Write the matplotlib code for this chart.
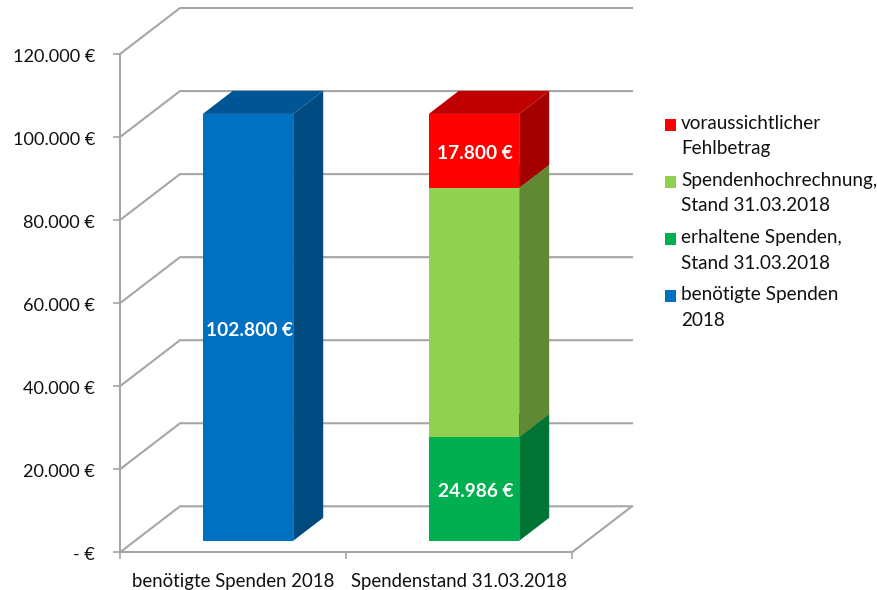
import matplotlib
matplotlib.use('Agg')
import matplotlib.pyplot as plt
from matplotlib.legend_handler import HandlerPatch
from matplotlib.patches import Rectangle
from matplotlib.transforms import ScaledTranslation
import numpy as np

# Daten
categories = ['benötigte Spenden 2018', 'Spendenstand 31.03.2018']
series_names = ['benötigte Spenden\n2018',
                'erhaltene Spenden,\nStand 31.03.2018',
                'Spendenhochrechnung,\nStand 31.03.2018',
                'voraussichtlicher\nFehlbetrag']
benoetigt = [102800, 0]
erhalten = [0, 24986]
hochrechnung = [0, 60014]
fehlbetrag = [0, 17800]
y_ticks = [0, 20000, 40000, 60000, 80000, 100000, 120000]
y_labels = ['- €', '20.000 €', '40.000 €', '60.000 €', '80.000 €', '100.000 €', '120.000 €']
value_labels = ['102.800 €', '24.986 €', '', '17.800 €']

front_colors = ['#0070C0', '#00B050', '#92D050', '#FF0000']
side_colors = ['#004A80', '#007434', '#608835', '#A50000']
top_colors = ['#005594', '#008A3C', '#6F9E3C', '#C00000']
grid_color = '#A6A6A6'
text_color = '#111111'

plt.rcParams['font.family'] = ['Lato', 'DejaVu Sans']

W, H = 878, 590
fig = plt.figure(figsize=(W / 100, H / 100), dpi=100, facecolor='white')
ax = fig.add_axes([120 / W, 1 - 552.3 / H, 452 / W, 498.3 / H])
ax.set_xlim(0, 2)
ax.set_ylim(0, 120000)

# Tiefe des 3D-Effekts in Datenkoordinaten
depth_x = 60 / 226
depth_y = 46 / 498.3 * 120000


def proj(x, y, z):
    return x + z * depth_x, y + z * depth_y


# Raster: Seitenwand und Rückwand
for v in y_ticks:
    xs, ys = zip(proj(0, v, 0), proj(0, v, 1), proj(2, v, 1))
    ax.plot(xs, ys, color=grid_color, lw=1.5, clip_on=False, zorder=1)
xs, ys = zip(proj(2, 0, 1), proj(2, 0, 0))
ax.plot(xs, ys, color=grid_color, lw=1.5, clip_on=False, zorder=1)

# Balken
x_pos = np.array([0.5, 1.5])
width = 0.4
z0, z1 = 0.25, 0.75
bottom = np.zeros(2)
containers = []
for i, vals in enumerate([benoetigt, erhalten, hochrechnung, fehlbetrag]):
    vals = np.array(vals)
    fx, base = proj(x_pos, bottom, z0)
    c = ax.bar(fx, vals, width, bottom=base, color=front_colors[i], label=series_names[i],
               clip_on=False, zorder=4)
    containers.append(c)
    for j in range(2):
        if vals[j] == 0:
            continue
        xr = x_pos[j] + width / 2
        xl = x_pos[j] - width / 2
        lo = bottom[j]
        hi = bottom[j] + vals[j]
        # rechte Seite
        pts = [proj(xr, lo, z0), proj(xr, lo, z1), proj(xr, hi, z1), proj(xr, hi, z0)]
        ax.fill(*zip(*pts), color=side_colors[i], lw=0, clip_on=False, zorder=3)
        # Deckel
        pts = [proj(xl, hi, z0), proj(xl, hi, z1), proj(xr, hi, z1), proj(xr, hi, z0)]
        ax.fill(*zip(*pts), color=top_colors[i], lw=0, clip_on=False, zorder=3)
        if value_labels[i]:
            ax.annotate(value_labels[i], proj(x_pos[j], lo + vals[j] / 2, z0), xytext=(1, -2),
                        textcoords='offset points', color='white', fontsize=13.8, fontweight='bold',
                        ha='center', va='center', zorder=5)
    bottom = bottom + vals

# Achsen
for s in ['top', 'right']:
    ax.spines[s].set_visible(False)
for s in ['left', 'bottom']:
    ax.spines[s].set_color(grid_color)
    ax.spines[s].set_linewidth(1.5)
ax.patch.set_visible(False)

ax.set_yticks(y_ticks, y_labels)
ax.set_xticks([0, 1, 2], ['', '', ''])
ax.set_xticks(x_pos, categories, minor=True)
ax.tick_params(axis='y', length=5, width=1.2, color=grid_color, pad=13, labelsize=13.1, labelcolor=text_color)
ax.tick_params(axis='x', which='major', length=5, width=1.2, color=grid_color)
ax.tick_params(axis='x', which='minor', length=0, pad=15, labelsize=13.4, labelcolor=text_color)
for t in ax.get_yticklabels():
    t.set_transform(t.get_transform() + ScaledTranslation(0, -1 / 72, fig.dpi_scale_trans))

# Legende
handles = [c[0] for c in containers][::-1]
leg = fig.legend(handles, series_names[::-1], loc='upper left', bbox_to_anchor=(665 / W, 1 - 115 / H),
                 bbox_transform=fig.transFigure, frameon=False, fontsize=13.55, handlelength=0.6,
                 handleheight=0.6, handletextpad=0.26, labelspacing=0.78, borderpad=0, borderaxespad=0,
                 labelcolor=text_color, handler_map={Rectangle: HandlerPatch(ypad=1.24)})
for t in leg.get_texts():
    t.set_linespacing(1.6)

fig.savefig('out.png', dpi=100)
